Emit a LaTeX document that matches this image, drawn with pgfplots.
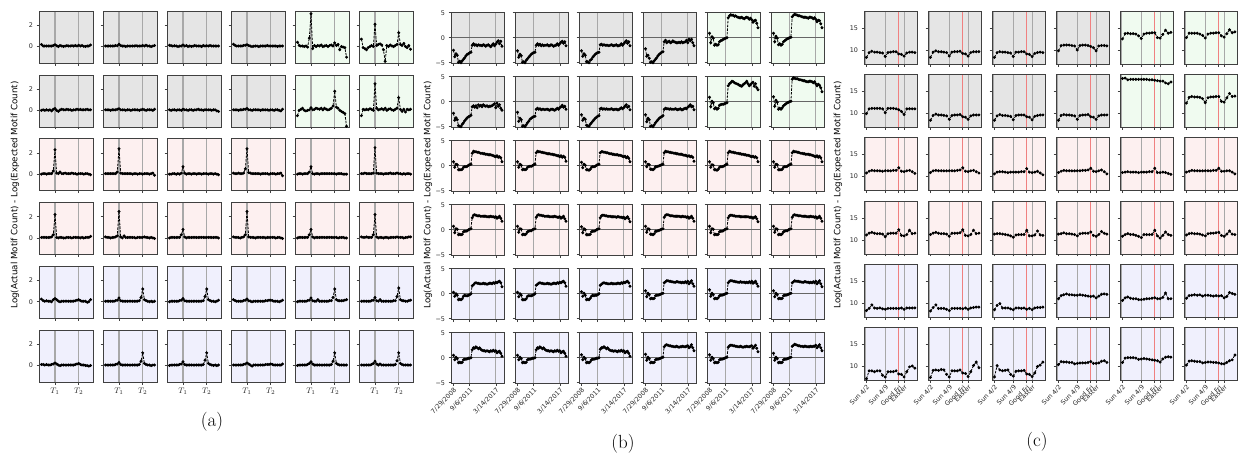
\documentclass[border=0pt]{standalone}
\usepackage{pgfplots}
\pgfplotsset{compat=1.18}
\usepackage{fontspec}
\newfontfamily\djv{DejaVu Sans}
\definecolor{cg}{HTML}{E5E5E5}
\definecolor{cgr}{HTML}{F0FBF0}
\definecolor{cp}{HTML}{FDF0F0}
\definecolor{cb}{HTML}{F0F0FD}
\definecolor{vlc}{HTML}{A8A8A8}
\definecolor{rlc}{HTML}{F08080}
\newcommand\mkc[1]{\gdef\crd{}\foreach \v [count=\i from 0] in {#1}{\xdef\crd{\crd(\i,\v)}}}
\pgfplotsset{
 sp/.style={scale only axis, anchor=north west,
   axis line style={draw=black!75, line width=0.55pt},
   tick align=outside, xtick pos=bottom, ytick pos=left,
   major tick length=2.5pt, every tick/.style={black!75, line width=0.55pt},
   tick label style={font=\djv\fontsize{6.4}{7.5}\selectfont, text=black!85},
   /pgf/number format/assume math mode=true,
   xticklabels={}, yticklabels={}, axis on top, clip=true},
 pa/.style={sp, width=54pt, height=52pt, xmin=-1.45, xmax=30.45, ymin=-1.55, ymax=3.35, xtick={8,22}, ytick={0,2}},
 pb/.style={sp, width=53.5pt, height=51.5pt, xmin=-2, xmax=41, ymin=-5.15, ymax=5.15, xtick={0,13,34}, ytick={-5,0,5}},
 pc/.style={sp, width=53.3pt, height=53pt, xmin=-0.9, xmax=18.9, ymin=6.8, ymax=18.85, xtick={0,7,12,14}, ytick={10,15}},
 ayl/.style={yticklabels={0,2}},
 axl/.style={xticklabels={$T_1$,$T_2$}, x tick label style={font=\fontsize{8}{9}\selectfont}},
 byl/.style={yticklabels={−5,0,5}},
 bxl/.style={xticklabels={7/29/2008,9/6/2011,3/14/2017}, x tick label style={rotate=45, anchor=north east, inner sep=1pt}},
 cyl/.style={yticklabels={10,15}},
 cxl/.style={xticklabels={Sun 4/2,Sun 4/9,Good Fri,Easter}, x tick label style={rotate=45, anchor=north east, inner sep=1pt}},
}
\tikzset{
 vl/.style={draw=vlc, line width=1.1pt},
 vlb/.style={draw=vlc, line width=1.7pt},
 rl/.style={draw=rlc, line width=1.2pt},
 hl/.style={draw=black!60, line width=0.6pt},
 ser/.style={black, line width=0.8pt, dash pattern=on 2.5pt off 1.2pt, mark=*, mark size=1.05pt, mark options={solid}},
}
\newcommand\PA[5]{\pgfmathsetmacro\px{39+64*(#1-1)}\pgfmathsetmacro\py{11+63.8*(#2-1)}\mkc{#5}%
\begin{axis}[pa,at={(\px pt,-\py pt)},axis background/.style={fill=#3},#4]
\draw[vl] (axis cs:8,-1.55) -- (axis cs:8,3.35);
\draw[vl] (axis cs:22,-1.55) -- (axis cs:22,3.35);
\edef\mytmp{\noexpand\addplot[ser] coordinates {\crd};}\mytmp
\end{axis}}
\newcommand\PB[5]{\pgfmathsetmacro\px{451+64*(#1-1)}\pgfmathsetmacro\py{12+64*(#2-1)}\mkc{#5}%
\begin{axis}[pb,at={(\px pt,-\py pt)},axis background/.style={fill=#3},#4]
\draw[vl] (axis cs:13,-5.15) -- (axis cs:13,5.15);
\draw[vl] (axis cs:34,-5.15) -- (axis cs:34,5.15);
\draw[hl] (axis cs:-2,0) -- (axis cs:41,0);
\edef\mytmp{\noexpand\addplot[ser] coordinates {\crd};}\mytmp
\end{axis}}
\newcommand\PC[5]{\pgfmathsetmacro\px{864+64*(#1-1)}\pgfmathsetmacro\py{11+63.3*(#2-1)}\mkc{#5}%
\begin{axis}[pc,at={(\px pt,-\py pt)},axis background/.style={fill=#3},#4]
\draw[vlb] (axis cs:-0.5,6.8) -- (axis cs:-0.5,18.85);
\draw[vl] (axis cs:7,6.8) -- (axis cs:7,18.85);
\draw[vl] (axis cs:14,6.8) -- (axis cs:14,18.85);
\draw[rl] (axis cs:12,6.8) -- (axis cs:12,18.85);
\edef\mytmp{\noexpand\addplot[ser] coordinates {\crd};}\mytmp
\end{axis}}
\begin{document}
\begin{tikzpicture}
\useasboundingbox (0,0) rectangle (1244pt,-469pt);
% ---------------- panel (a) ----------------
\PA{1}{1}{cg}{ayl}{0.2,0.05,0.05,0.05,0.05,0.05,0.05,0.1,0.18,0.08,0.0,0.1,0.05,0.0,0.05,0.08,0.05,0.05,0.08,0.05,0.1,0.05,0.12,0.05,0.1,0.02,0.0,0.05,0.05,0.15}
\PA{2}{1}{cg}{}{0.05,0.05,0.05,0.05,0.05,0.05,0.1,0.08,0.22,0.1,0.05,0.05,0.0,0.05,0.05,0.05,0.05,0.05,0.08,0.05,0.05,0.05,0.1,0.05,0.12,0.05,0.05,0.0,0.05,0.1}
\PA{3}{1}{cg}{}{0.12,0.08,0.05,0.08,0.05,0.0,0.05,0.05,0.15,0.05,0.1,0.0,0.05,0.0,0.05,0.1,0.05,0.05,0.05,0.0,0.1,0.05,0.08,0.05,0.1,0.05,0.05,0.05,0.05,0.05}
\PA{4}{1}{cg}{}{0.22,0.1,0.05,0.05,0.05,0.05,0.1,0.12,0.18,0.1,0.05,0.0,0.02,0.05,0.05,0.0,0.05,0.05,0.05,0.05,0.1,0.05,0.05,0.05,0.05,0.05,0.0,0.05,0.05,0.05}
\PA{5}{1}{cgr}{}{0.4,0.1,0.05,0.05,0.0,0.05,-0.05,0.8,3.1,-0.2,0.1,0.0,0.1,0.05,0.15,0.0,0.05,0.1,0.0,0.1,0.15,0.05,0.35,0.1,0.2,-0.3,0.0,-0.05,-0.1,-1.0}
\PA{6}{1}{cgr}{}{0.7,-0.1,-0.2,-0.3,-0.1,0.0,0.1,0.0,2.1,0.1,0.2,0.25,0.15,-0.3,-1.4,0.1,0.0,0.15,0.05,0.0,0.1,0.2,1.3,0.2,0.1,0.3,0.0,-0.1,0.1,-0.25}
\PA{1}{2}{cg}{ayl}{0.0,0.05,0.0,0.05,0.0,0.05,-0.05,0.1,0.18,0.0,-0.1,0.05,0.1,0.05,0.05,0.1,0.05,0.05,0.0,0.05,0.05,0.1,0.05,0.1,0.05,0.05,0.05,0.1,0.05,0.05}
\PA{2}{2}{cg}{}{0.05,0.05,0.05,0.0,0.05,0.05,0.05,0.1,0.15,0.05,0.05,0.05,0.0,0.05,0.05,0.0,0.05,0.05,0.05,0.05,0.0,0.05,0.1,0.05,0.0,0.05,0.05,0.05,0.0,0.1}
\PA{3}{2}{cg}{}{0.05,0.0,0.05,0.05,0.0,0.05,0.05,0.0,0.1,0.05,0.05,0.0,0.05,0.05,0.0,0.05,0.05,0.1,0.05,0.05,0.0,0.05,0.05,0.05,0.05,0.0,0.05,0.05,-0.05,-0.1}
\PA{4}{2}{cg}{}{0.05,0.05,0.05,0.0,0.05,0.05,0.1,0.1,0.18,0.05,0.05,0.0,0.05,0.05,0.05,0.05,0.0,0.05,0.05,0.05,0.05,0.0,0.05,0.05,0.0,0.05,0.05,0.0,-0.05,0.1}
\PA{5}{2}{cgr}{}{-0.5,0.0,0.1,0.2,0.0,-0.05,0.0,0.05,0.25,0.05,0.1,0.2,0.15,0.1,0.2,0.05,0.2,0.1,0.05,0.1,0.2,0.4,1.8,0.3,0.2,0.0,-0.1,-0.2,-0.3,-1.5}
\PA{6}{2}{cgr}{}{-0.5,0.1,0.05,0.1,0.05,0.15,0.1,0.0,2.5,0.2,0.05,0.1,0.15,0.05,0.2,0.0,0.1,0.15,0.05,0.0,0.1,0.2,1.2,0.1,-0.1,0.1,-0.15,0.1,0.05,0.1}
\PA{1}{3}{cp}{ayl}{0.0,0.05,0.05,0.0,0.05,0.05,0.05,0.3,2.3,0.1,0.05,0.2,0.05,0.05,0.1,0.05,0.05,0.05,0.1,0.05,0.05,0.0,0.05,0.05,0.05,0.0,0.05,0.05,0.0,-0.05}
\PA{2}{3}{cp}{}{0.05,0.05,0.05,0.05,0.05,0.05,0.05,0.2,2.4,0.1,0.05,0.05,0.05,0.05,0.05,0.05,0.0,0.05,0.05,0.0,0.05,0.05,0.0,0.05,0.05,0.05,0.0,0.05,0.1,-0.1}
\PA{3}{3}{cp}{}{0.0,0.0,0.05,0.05,0.0,0.05,0.0,0.1,0.7,0.1,0.0,0.05,0.05,0.0,0.05,0.05,0.0,0.05,0.05,0.0,0.05,0.05,0.05,0.0,0.05,0.05,0.0,0.05,0.0,-0.05}
\PA{4}{3}{cp}{}{0.1,0.05,0.05,0.1,0.05,0.05,0.1,0.5,2.4,0.15,0.1,0.05,0.05,0.05,0.05,0.05,0.0,0.05,0.05,0.05,0.05,0.0,0.05,0.05,0.05,0.0,0.05,0.05,0.1,-0.15}
\PA{5}{3}{cp}{}{0.0,0.05,0.05,0.0,0.05,0.05,0.05,0.2,0.7,0.05,0.0,0.05,0.05,0.0,0.05,0.05,0.05,0.05,0.05,0.05,0.05,0.05,0.05,0.0,0.05,0.05,0.05,0.0,0.0,0.0}
\PA{6}{3}{cp}{}{0.05,0.05,0.1,0.05,0.05,0.05,0.05,0.1,2.5,0.1,0.05,0.05,0.05,0.0,0.05,0.05,0.05,0.1,0.05,0.05,0.05,0.1,0.05,0.05,0.0,0.05,0.0,0.05,0.05,0.0}
\PA{1}{4}{cp}{ayl}{0.05,0.05,0.05,0.05,0.05,0.05,0.1,0.3,2.2,0.05,0.0,0.05,0.05,0.0,0.0,0.05,0.05,0.05,0.0,0.05,0.05,0.05,0.05,0.0,0.05,0.0,0.05,0.05,0.05,0.15}
\PA{2}{4}{cp}{}{0.1,0.05,0.05,0.0,0.05,0.05,0.1,0.2,2.5,0.1,0.0,0.2,0.05,0.05,0.05,0.05,0.05,0.05,0.0,0.05,0.05,0.05,0.05,0.1,0.05,0.05,0.0,0.05,0.0,-0.05}
\PA{3}{4}{cp}{}{0.0,0.05,0.05,0.05,0.05,0.05,0.05,0.3,0.8,0.1,0.0,0.05,0.05,0.05,0.05,0.05,0.05,0.05,0.05,0.05,0.05,0.05,0.05,0.05,0.05,0.05,0.05,0.05,0.05,0.0}
\PA{4}{4}{cp}{}{0.1,0.05,0.05,0.05,0.0,0.05,0.1,0.3,2.5,0.1,0.05,0.05,0.05,0.0,0.05,0.05,0.05,0.05,0.05,0.0,0.05,0.05,0.05,0.05,0.05,0.0,0.05,0.05,0.0,-0.05}
\PA{5}{4}{cp}{}{0.0,0.05,0.05,0.05,0.05,0.05,0.05,0.3,0.8,0.1,0.0,0.05,0.05,0.05,0.05,0.05,0.05,0.05,0.05,0.05,0.05,0.05,0.05,0.05,0.0,0.05,0.05,0.05,0.0,0.0}
\PA{6}{4}{cp}{}{0.1,0.05,0.05,0.1,0.05,0.05,0.05,0.3,2.2,0.1,0.0,0.05,0.05,0.0,0.05,0.05,0.0,0.05,0.05,0.05,0.05,0.1,0.05,0.05,0.05,0.0,0.05,0.05,0.1,0.1}
\PA{1}{5}{cb}{ayl}{0.25,0.1,0.05,0.1,0.05,0.05,0.0,0.2,0.3,0.2,0.05,0.0,0.05,0.05,0.05,0.05,0.05,0.05,0.05,0.05,0.1,0.15,0.2,0.1,0.05,0.05,0.05,-0.05,0.0,0.2}
\PA{2}{5}{cb}{}{0.05,0.05,0.05,0.05,0.05,0.05,0.1,0.15,0.35,0.1,0.05,0.05,0.05,0.05,0.05,0.05,0.05,0.05,0.05,0.05,0.1,0.4,1.2,0.2,0.1,0.05,0.0,0.05,0.0,0.05}
\PA{3}{5}{cb}{}{0.0,0.05,0.05,0.05,0.05,0.05,0.1,0.15,0.3,0.1,0.05,0.05,0.05,0.05,0.05,0.05,0.05,0.05,0.05,0.05,0.1,0.5,1.2,0.2,0.1,0.05,0.05,0.0,0.05,0.15}
\PA{4}{5}{cb}{}{0.2,0.1,0.05,0.05,0.05,0.05,0.1,0.15,0.25,0.1,0.05,0.0,0.05,0.05,0.05,0.05,0.05,0.05,0.05,0.1,0.1,0.15,0.15,0.1,0.05,0.05,0.05,0.0,0.05,0.15}
\PA{5}{5}{cb}{}{0.0,0.05,0.05,0.05,0.05,0.05,0.1,0.15,0.35,0.1,0.05,0.05,0.2,0.05,0.05,0.05,0.05,0.05,0.05,0.1,0.1,0.4,1.2,0.2,0.1,0.1,0.1,0.1,0.15,0.2}
\PA{6}{5}{cb}{}{0.05,0.05,0.05,0.05,0.05,0.05,0.1,0.15,0.4,0.1,0.05,0.2,0.05,0.05,0.05,0.05,0.05,0.05,0.05,0.1,0.1,0.5,1.3,0.2,0.1,0.1,0.05,0.05,0.1,0.15}
\PA{1}{6}{cb}{ayl,axl}{0.1,0.1,0.05,0.1,0.05,0.05,0.1,0.15,0.25,0.15,0.05,0.0,0.05,0.05,0.05,0.05,0.05,0.05,0.05,0.05,0.1,0.15,0.2,0.1,0.05,0.05,0.0,0.0,-0.05,0.0}
\PA{2}{6}{cb}{axl}{0.05,0.05,0.05,0.05,0.05,0.05,0.1,0.15,0.3,0.1,0.05,0.05,0.05,0.05,0.05,0.05,0.05,0.05,0.05,0.05,0.1,0.4,1.2,0.2,0.1,0.05,0.05,0.0,0.05,0.05}
\PA{3}{6}{cb}{axl}{0.0,0.05,0.05,0.05,0.05,0.05,0.1,0.15,0.35,0.1,0.05,0.05,0.05,0.05,0.05,0.05,0.05,0.05,0.05,0.05,0.1,0.5,1.2,0.2,0.1,0.05,0.0,0.05,0.0,0.05}
\PA{4}{6}{cb}{axl}{0.05,0.05,0.05,0.05,0.05,0.05,0.1,0.15,0.25,0.15,0.05,-0.05,0.05,0.05,0.05,0.05,0.05,0.05,0.05,0.1,0.1,0.1,0.15,0.1,0.05,0.05,0.05,0.05,0.05,0.15}
\PA{5}{6}{cb}{axl}{0.0,0.05,0.05,0.05,0.05,0.05,0.1,0.2,0.35,0.15,0.05,0.05,0.05,0.05,0.05,0.05,0.05,0.05,0.05,0.05,0.1,0.4,1.2,0.2,0.1,0.05,0.05,0.05,0.05,0.05}
\PA{6}{6}{cb}{axl}{0.05,0.05,0.05,0.05,0.05,0.05,0.1,0.2,0.4,0.15,0.05,0.15,0.05,0.05,0.05,0.05,0.05,0.05,0.05,0.05,0.1,0.45,1.2,0.2,0.1,0.05,0.05,0.05,0.05,0.05}
% ---------------- panel (b) ----------------
\PB{1}{1}{cg}{byl}{-2.5,-3.8,-3.2,-3.5,-4.9,-4.7,-5.0,-4.6,-4.3,-4.0,-3.6,-3.3,-3.2,-3.0,-2.9,-1.5,-1.2,-1.5,-1.4,-1.6,-1.4,-1.5,-1.5,-1.6,-1.4,-1.5,-1.7,-1.5,-1.4,-1.6,-1.8,-1.5,-1.2,-1.6,-1.3,-0.9,-0.6,-1.2,-0.7,-1.7}
\PB{2}{1}{cg}{}{-2.6,-3.9,-3.3,-3.6,-4.9,-4.8,-5.0,-4.5,-4.2,-3.9,-3.6,-3.3,-3.1,-3.0,-2.9,-1.5,-1.2,-1.5,-1.3,-1.6,-1.4,-1.6,-1.5,-1.5,-1.4,-1.6,-1.6,-1.4,-1.5,-1.7,-1.6,-1.5,-1.2,-1.5,-1.2,-0.9,-0.7,-1.1,-0.8,-1.6}
\PB{3}{1}{cg}{}{-2.6,-3.7,-3.2,-3.5,-4.8,-4.8,-5.0,-4.5,-4.3,-3.9,-3.6,-3.3,-3.1,-3.0,-2.9,-1.4,-1.3,-1.5,-1.4,-1.5,-1.5,-1.5,-1.6,-1.5,-1.4,-1.5,-1.6,-1.5,-1.4,-1.6,-1.6,-1.5,-1.2,-1.5,-1.2,-0.9,-0.6,-1.1,-0.8,-1.6}
\PB{4}{1}{cg}{}{-2.2,-3.7,-3.5,-4.1,-4.9,-4.8,-5.0,-4.6,-4.3,-4.0,-3.6,-3.3,-3.1,-2.9,-2.8,-0.8,-0.5,-1.0,-0.8,-0.7,-1.0,-0.9,-0.6,-0.8,-0.9,-1.0,-1.0,-0.9,-1.0,-0.8,-1.0,-0.9,-0.8,-0.5,-1.0,-0.3,-0.6,-0.3,-1.0,-1.6}
\PB{5}{1}{cgr}{}{0.9,-1.0,0.2,-0.1,-1.5,-1.3,-1.5,-1.4,-0.8,-0.6,-0.5,-0.3,-0.2,-0.1,0.0,4.0,4.4,4.6,4.5,4.5,4.3,4.4,4.2,4.1,4.0,4.0,4.1,3.9,3.8,4.0,4.1,4.0,3.7,3.9,3.6,3.1,3.4,3.5,2.9,2.0}
\PB{6}{1}{cgr}{}{0.9,-0.8,0.3,-0.1,-1.4,-1.2,-1.5,-1.3,-0.8,-0.6,-0.4,-0.2,-0.1,0.0,0.1,4.2,4.5,4.7,4.6,4.5,4.4,4.4,4.3,4.2,4.1,4.1,4.1,4.0,3.9,4.1,4.1,4.0,3.8,4.0,3.7,3.2,3.5,3.4,2.8,2.0}
\PB{1}{2}{cg}{byl}{-2.3,-3.7,-3.2,-3.6,-4.8,-4.9,-5.0,-4.5,-4.2,-3.8,-3.5,-3.2,-3.0,-2.9,-2.7,-1.0,-0.8,-1.1,-0.8,-1.2,-0.6,-0.9,-0.7,-1.0,-0.6,-0.8,-0.9,-0.8,-1.0,-0.9,-0.9,-0.8,-0.6,-0.4,-1.2,-0.3,-0.9,-0.6,-1.3,-1.7}
\PB{2}{2}{cg}{}{-2.1,-3.9,-3.3,-3.6,-4.9,-4.8,-5.0,-4.6,-4.2,-3.9,-3.5,-3.3,-3.1,-3.0,-2.9,-1.5,-1.3,-1.5,-1.4,-1.6,-1.5,-1.5,-1.6,-1.5,-1.5,-1.6,-1.7,-1.5,-1.5,-1.6,-1.7,-1.5,-1.3,-1.5,-1.2,-1.0,-0.7,-1.1,-0.9,-1.5}
\PB{3}{2}{cg}{}{-2.6,-3.7,-3.3,-3.5,-4.7,-4.8,-4.9,-4.5,-4.2,-3.9,-3.6,-3.3,-3.1,-2.9,-2.8,-1.4,-1.3,-1.5,-1.4,-1.5,-1.4,-1.5,-1.5,-1.5,-1.4,-1.5,-1.6,-1.5,-1.5,-1.6,-1.6,-1.4,-1.2,-1.4,-1.2,-0.9,-0.6,-1.1,-0.9,-1.6}
\PB{4}{2}{cg}{}{-2.6,-4.0,-3.3,-3.6,-4.9,-4.8,-5.0,-4.6,-4.2,-3.9,-3.6,-3.3,-3.1,-3.0,-2.8,-1.5,-1.3,-1.4,-1.4,-1.5,-1.4,-1.5,-1.5,-1.5,-1.4,-1.5,-1.6,-1.5,-1.4,-1.6,-1.6,-1.4,-1.3,-1.4,-1.1,-0.9,-0.6,-1.0,-0.9,-1.6}
\PB{5}{2}{cgr}{}{0.9,-1.0,0.1,-0.2,-1.4,-1.2,-1.5,-1.3,-0.7,-0.6,-0.5,-0.5,-0.4,-0.3,-0.2,3.2,3.6,3.8,4.1,4.0,3.8,3.7,3.6,3.5,3.3,3.2,3.1,3.4,3.6,3.8,4.1,3.6,3.2,3.4,3.7,3.9,3.1,3.6,2.8,2.4}
\PB{6}{2}{cgr}{}{1.0,-0.9,0.3,-0.1,-1.5,-1.3,-1.5,-1.2,-0.8,-0.6,-0.4,-0.2,-0.1,0.0,0.1,4.5,4.8,4.7,4.6,4.6,4.5,4.4,4.4,4.3,4.2,4.2,4.1,4.0,4.0,4.1,4.1,4.0,3.8,4.0,3.6,3.2,3.5,3.3,2.8,2.0}
\PB{1}{3}{cp}{byl}{0.8,-0.3,0.3,0.2,-0.8,-0.8,-0.8,-0.7,-0.3,-0.2,-0.2,-0.1,0.1,0.2,0.3,2.5,2.9,2.8,2.8,2.7,2.7,2.6,2.5,2.5,2.4,2.4,2.3,2.3,2.2,2.2,2.2,2.1,2.0,1.9,1.8,2.0,1.7,1.8,1.6,0.8}
\PB{2}{3}{cp}{}{0.8,-0.3,0.3,0.1,-0.8,-0.7,-0.8,-0.7,-0.3,-0.2,-0.1,-0.1,0.0,0.2,0.3,2.6,2.9,2.8,2.8,2.7,2.7,2.6,2.6,2.5,2.4,2.4,2.4,2.3,2.3,2.2,2.2,2.1,2.0,2.0,1.8,2.0,1.7,1.9,1.7,0.9}
\PB{3}{3}{cp}{}{0.7,-0.4,0.3,0.1,-0.8,-0.8,-0.9,-0.7,-0.3,-0.2,-0.2,-0.1,0.1,0.2,0.3,2.6,2.8,2.8,2.7,2.7,2.6,2.6,2.5,2.4,2.4,2.3,2.3,2.2,2.2,2.2,2.1,2.1,2.0,1.9,1.8,1.9,1.6,1.8,1.5,0.8}
\PB{4}{3}{cp}{}{0.8,-0.2,0.3,0.2,-0.7,-0.7,-0.8,-0.6,-0.2,-0.2,-0.1,0.0,0.1,0.2,0.3,2.6,2.9,2.8,2.8,2.7,2.7,2.6,2.6,2.5,2.5,2.4,2.4,2.3,2.3,2.3,2.2,2.1,2.1,2.0,1.9,2.0,1.8,1.9,1.7,0.9}
\PB{5}{3}{cp}{}{0.8,-0.3,0.2,0.1,-0.8,-0.8,-0.9,-0.7,-0.3,-0.2,-0.2,-0.1,0.0,0.2,0.3,2.6,2.9,2.8,2.7,2.7,2.6,2.6,2.5,2.5,2.4,2.4,2.3,2.3,2.2,2.2,2.1,2.1,2.0,1.9,1.8,1.9,1.7,1.8,1.6,0.8}
\PB{6}{3}{cp}{}{0.8,-0.3,0.3,0.2,-0.8,-0.8,-0.8,-0.7,-0.3,-0.2,-0.2,-0.1,0.1,0.2,0.3,2.6,2.9,2.8,2.8,2.7,2.7,2.6,2.5,2.5,2.4,2.4,2.3,2.3,2.3,2.2,2.2,2.1,2.0,1.9,1.8,2.0,1.7,1.9,1.6,0.8}
\PB{1}{4}{cp}{byl}{0.7,-0.6,0.2,0.1,-1.0,-0.9,-1.0,-0.9,-0.4,-0.3,-0.3,-0.2,0.0,0.1,0.2,2.4,2.9,3.0,2.9,2.8,2.8,2.8,2.7,2.7,2.7,2.7,2.7,2.6,2.6,2.6,2.7,2.6,2.6,2.5,2.6,2.3,2.5,2.7,2.3,1.7}
\PB{2}{4}{cp}{}{0.7,-0.5,0.2,0.1,-1.0,-0.9,-1.0,-0.8,-0.4,-0.3,-0.2,-0.2,0.0,0.1,0.2,2.5,2.9,3.0,2.9,2.9,2.8,2.8,2.7,2.7,2.7,2.7,2.6,2.6,2.6,2.6,2.7,2.6,2.5,2.5,2.6,2.3,2.5,2.7,2.2,1.7}
\PB{3}{4}{cp}{}{0.6,-0.6,0.2,0.0,-1.0,-1.0,-1.0,-0.9,-0.4,-0.3,-0.3,-0.2,0.0,0.1,0.2,2.4,2.8,2.9,2.9,2.8,2.8,2.7,2.7,2.7,2.6,2.6,2.6,2.6,2.5,2.6,2.6,2.5,2.5,2.4,2.5,2.2,2.4,2.6,2.2,1.6}
\PB{4}{4}{cp}{}{0.7,-0.5,0.2,0.1,-0.9,-0.9,-1.0,-0.8,-0.3,-0.3,-0.2,-0.1,0.0,0.1,0.2,2.5,2.9,3.0,3.0,2.9,2.8,2.8,2.8,2.7,2.7,2.7,2.7,2.7,2.6,2.6,2.7,2.6,2.6,2.5,2.6,2.3,2.5,2.7,2.3,1.7}
\PB{5}{4}{cp}{}{0.7,-0.6,0.2,0.1,-1.0,-0.9,-1.0,-0.9,-0.4,-0.3,-0.3,-0.2,0.0,0.1,0.2,2.4,2.8,2.9,2.9,2.8,2.8,2.7,2.7,2.7,2.7,2.6,2.6,2.6,2.6,2.6,2.6,2.6,2.5,2.5,2.5,2.3,2.5,2.6,2.2,1.6}
\PB{6}{4}{cp}{}{0.7,-0.5,0.2,0.1,-1.0,-0.9,-1.0,-0.8,-0.4,-0.3,-0.2,-0.2,0.0,0.1,0.2,2.5,2.9,3.0,2.9,2.9,2.8,2.8,2.8,2.7,2.7,2.7,2.7,2.6,2.6,2.6,2.7,2.6,2.6,2.5,2.6,2.3,2.5,2.7,2.3,1.7}
\PB{1}{5}{cb}{byl}{0.3,-0.5,0.0,-0.3,-1.2,-1.1,-1.2,-1.0,-0.5,-0.3,-0.4,-0.4,-0.3,-0.2,0.0,1.6,1.8,2.1,2.2,2.1,2.1,2.0,2.0,2.0,2.1,2.0,2.0,1.9,2.0,2.1,2.1,2.0,2.2,2.1,2.3,2.2,2.4,2.5,2.2,1.4}
\PB{2}{5}{cb}{}{0.3,-0.6,0.0,-0.3,-1.2,-1.2,-1.2,-1.0,-0.5,-0.4,-0.4,-0.4,-0.3,-0.2,0.0,1.7,1.9,2.1,2.2,2.1,2.1,2.0,2.0,2.0,2.1,2.0,2.0,1.9,2.0,2.1,2.1,2.0,2.2,2.1,2.3,2.2,2.4,2.5,2.2,1.5}
\PB{3}{5}{cb}{}{0.4,-0.5,0.1,-0.3,-1.2,-1.1,-1.2,-0.9,-0.5,-0.3,-0.4,-0.3,-0.3,-0.2,0.0,1.7,1.9,2.1,2.2,2.1,2.1,2.0,2.0,2.0,2.1,2.0,2.0,2.0,2.0,2.1,2.1,2.0,2.2,2.1,2.3,2.2,2.4,2.5,2.2,1.5}
\PB{4}{5}{cb}{}{0.6,-0.6,0.1,-0.2,-1.0,-0.9,-1.0,-0.9,-0.4,-0.3,-0.3,-0.2,-0.1,0.0,0.1,2.2,2.4,2.6,2.6,2.5,2.5,2.4,2.4,2.3,2.3,2.4,2.4,2.3,2.3,2.2,2.3,2.2,2.4,2.2,2.5,2.0,2.3,2.6,2.0,1.5}
\PB{5}{5}{cb}{}{0.8,-0.5,0.1,-0.2,-1.0,-0.9,-1.0,-0.8,-0.4,-0.3,-0.3,-0.2,-0.1,0.0,0.1,2.2,2.5,2.6,2.6,2.5,2.5,2.4,2.4,2.3,2.3,2.4,2.3,2.3,2.3,2.2,2.3,2.2,2.4,2.2,2.5,2.1,2.3,2.5,2.0,1.5}
\PB{6}{5}{cb}{}{0.6,-0.6,0.1,-0.2,-1.0,-0.9,-1.0,-0.9,-0.4,-0.3,-0.3,-0.2,-0.1,0.0,0.1,2.2,2.4,2.6,2.5,2.5,2.5,2.4,2.4,2.3,2.3,2.4,2.4,2.3,2.3,2.2,2.3,2.2,2.4,2.2,2.5,2.0,2.3,2.6,2.0,1.4}
\PB{1}{6}{cb}{byl,bxl}{0.5,-0.4,0.1,-0.2,-1.0,-0.9,-1.0,-0.9,-0.4,-0.3,-0.3,-0.2,-0.1,-0.1,0.0,1.6,2.0,1.9,2.2,2.0,1.8,2.0,1.7,1.5,1.4,1.4,1.3,1.4,1.3,1.2,1.4,1.3,1.5,1.3,1.4,1.0,1.2,1.3,0.9,0.3}
\PB{2}{6}{cb}{bxl}{0.5,-0.4,0.1,-0.2,-1.0,-0.9,-1.0,-0.9,-0.4,-0.3,-0.3,-0.2,-0.1,-0.1,0.0,1.6,2.0,1.9,2.2,2.0,1.8,2.0,1.7,1.5,1.4,1.4,1.3,1.4,1.3,1.2,1.4,1.3,1.5,1.3,1.4,1.0,1.2,1.3,0.9,0.3}
\PB{3}{6}{cb}{bxl}{0.6,-0.4,0.1,-0.2,-1.0,-0.9,-1.0,-0.8,-0.4,-0.3,-0.3,-0.2,-0.1,-0.1,0.0,1.7,2.0,2.0,2.2,2.0,1.8,2.0,1.7,1.5,1.4,1.4,1.3,1.4,1.3,1.2,1.4,1.3,1.5,1.3,1.4,1.0,1.2,1.3,0.9,0.3}
\PB{4}{6}{cb}{bxl}{0.7,-0.5,0.1,-0.2,-1.0,-0.9,-1.0,-0.9,-0.4,-0.3,-0.3,-0.2,-0.1,0.0,0.1,2.2,2.5,2.6,2.5,2.4,2.4,2.3,2.3,2.2,2.2,2.3,2.2,2.1,2.2,2.2,2.3,2.2,2.2,2.3,2.4,2.0,2.2,2.6,2.0,1.4}
\PB{5}{6}{cb}{bxl}{0.6,-0.5,0.1,-0.2,-1.0,-0.9,-1.0,-0.9,-0.4,-0.3,-0.3,-0.2,-0.1,0.0,0.1,2.1,2.4,2.5,2.5,2.4,2.4,2.3,2.3,2.2,2.2,2.3,2.2,2.1,2.2,2.2,2.3,2.2,2.2,2.3,2.4,1.9,2.2,2.5,1.9,1.2}
\PB{6}{6}{cb}{bxl}{0.9,-0.5,0.1,-0.2,-1.0,-0.9,-1.0,-0.9,-0.4,-0.3,-0.3,-0.2,-0.1,0.0,0.1,2.3,2.5,2.7,2.6,2.5,2.4,2.4,2.3,2.3,2.2,2.3,2.3,2.2,2.2,2.2,2.3,2.2,2.3,2.3,2.5,2.0,2.3,2.6,2.0,1.4}
% ---------------- panel (c) ----------------
\PC{1}{1}{cg}{cyl}{8.3,9.4,9.7,9.5,9.5,9.4,9.3,8.5,9.4,9.5,9.6,9.6,9.1,9.0,8.6,9.3,9.5,9.5,9.4}
\PC{2}{1}{cg}{}{8.3,9.5,9.8,9.6,9.6,9.5,9.4,8.6,9.5,9.6,9.6,9.7,9.2,9.1,8.6,9.4,9.6,9.6,9.6}
\PC{3}{1}{cg}{}{8.3,9.4,9.6,9.5,9.5,9.4,9.3,8.5,9.5,9.5,9.6,9.6,9.1,9.0,8.5,9.2,9.4,9.5,9.4}
\PC{4}{1}{cg}{}{9.8,11.0,11.1,11.1,11.1,11.0,10.9,10.0,11.0,11.1,11.1,11.0,10.8,10.5,9.8,10.9,11.0,11.0,10.9}
\PC{5}{1}{cgr}{}{12.5,13.7,13.8,13.7,13.7,13.6,13.2,12.6,13.6,13.8,13.8,13.9,13.9,12.8,12.7,13.5,14.5,13.8,14.0}
\PC{6}{1}{cgr}{}{12.8,13.8,13.8,13.8,13.8,13.6,13.3,12.7,13.6,13.8,13.8,13.9,13.9,13.2,12.9,13.7,14.6,13.9,14.1}
\PC{1}{2}{cg}{cyl}{9.9,11.0,11.1,11.1,11.1,11.1,11.0,10.1,11.1,11.1,11.1,11.0,10.8,10.4,9.7,11.0,11.0,11.0,11.0}
\PC{2}{2}{cg}{}{8.4,9.5,9.8,9.6,9.6,9.5,9.4,8.6,9.5,9.6,9.6,9.7,9.2,9.1,8.6,9.4,9.6,9.6,9.6}
\PC{3}{2}{cg}{}{8.4,9.4,9.7,9.5,9.5,9.4,9.3,8.5,9.5,9.6,9.6,9.6,9.2,9.1,8.5,9.3,9.5,9.6,9.6}
\PC{4}{2}{cg}{}{8.4,9.5,9.7,9.6,9.6,9.5,9.4,8.6,9.5,9.6,9.6,9.7,9.2,9.1,8.6,9.4,9.6,9.6,9.6}
\PC{5}{2}{cgr}{}{17.9,18.0,17.6,17.7,17.7,17.7,17.7,17.7,17.7,17.7,17.6,17.6,17.5,17.4,17.3,17.3,16.9,16.7,17.1}
\PC{6}{2}{cgr}{}{12.3,13.6,13.8,13.7,13.7,13.6,13.3,12.4,13.5,13.7,13.7,13.8,13.8,12.7,12.5,13.5,14.5,13.8,13.9}
\PC{1}{3}{cp}{cyl}{10.8,11.2,11.4,11.3,11.3,11.3,11.2,11.3,11.3,11.3,11.4,11.4,12.0,11.2,11.1,11.3,11.4,11.1,10.7}
\PC{2}{3}{cp}{}{10.9,11.3,11.4,11.3,11.3,11.3,11.3,11.3,11.3,11.3,11.4,11.5,12.0,11.2,11.1,11.3,11.4,11.1,10.8}
\PC{3}{3}{cp}{}{10.6,11.0,11.1,11.1,11.0,10.9,11.0,11.0,11.0,11.0,11.1,11.1,11.8,11.0,10.9,11.0,11.2,10.8,10.4}
\PC{4}{3}{cp}{}{10.9,11.2,11.4,11.3,11.3,11.3,11.3,11.3,11.3,11.4,11.4,11.5,11.9,11.2,11.1,11.3,11.5,11.1,10.6}
\PC{5}{3}{cp}{}{10.9,11.0,11.1,11.0,11.0,11.0,10.9,11.0,11.0,11.0,11.1,11.1,11.9,10.9,10.9,11.0,10.9,10.7,10.5}
\PC{6}{3}{cp}{}{11.0,11.2,11.4,11.3,11.3,11.3,11.3,11.3,11.3,11.3,11.4,11.4,11.9,11.2,11.2,11.3,11.3,11.0,10.6}
\PC{1}{4}{cp}{cyl}{11.1,11.5,11.7,11.5,11.4,11.4,11.3,10.7,11.4,11.5,11.5,11.5,12.3,11.0,10.9,11.2,12.2,11.4,11.5}
\PC{2}{4}{cp}{}{11.2,11.5,11.7,11.5,11.4,11.4,11.3,10.8,11.5,11.5,11.5,11.6,12.3,11.0,10.9,11.2,12.2,11.4,11.5}
\PC{3}{4}{cp}{}{11.3,11.4,11.4,11.3,11.2,11.1,10.9,10.6,11.1,11.2,11.2,11.2,12.2,10.9,10.9,11.1,12.0,11.1,11.0}
\PC{4}{4}{cp}{}{11.3,11.4,11.6,11.4,11.4,11.3,11.2,10.9,11.4,11.5,11.5,11.5,11.8,11.0,10.8,11.2,11.9,11.5,11.3}
\PC{5}{4}{cp}{}{10.8,11.2,11.4,11.2,11.2,11.0,10.8,10.5,11.2,11.2,11.2,11.2,12.2,10.9,10.4,11.0,11.8,11.2,11.0}
\PC{6}{4}{cp}{}{11.1,11.4,11.5,11.4,11.4,11.3,11.1,10.9,11.4,11.5,11.5,11.6,11.7,11.0,10.8,11.3,12.0,11.3,11.2}
\PC{1}{5}{cb}{cyl}{8.3,8.8,9.6,8.9,8.8,8.9,8.7,8.6,8.8,8.8,8.8,8.8,8.8,8.9,8.6,8.9,8.9,8.9,8.9}
\PC{2}{5}{cb}{}{8.2,9.0,9.6,8.8,8.8,8.8,8.6,8.3,8.8,8.8,8.8,8.8,8.7,8.9,8.6,8.9,9.0,9.1,9.1}
\PC{3}{5}{cb}{}{8.5,9.5,9.9,8.9,8.9,8.9,8.7,8.5,8.9,8.9,8.8,8.9,8.6,8.8,8.5,8.9,9.0,9.0,9.1}
\PC{4}{5}{cb}{}{11.0,11.7,11.9,12.1,11.9,11.9,11.8,11.8,11.9,11.8,11.7,11.6,11.5,11.6,11.2,11.6,12.0,12.1,12.0}
\PC{5}{5}{cb}{}{10.6,11.2,11.4,11.1,11.0,11.0,10.8,10.8,10.9,11.0,11.0,11.1,11.2,11.0,11.0,11.3,12.3,11.0,11.0}
\PC{6}{5}{cb}{}{11.1,11.7,11.8,11.9,11.8,11.9,11.6,11.8,11.8,11.7,11.6,11.7,11.6,11.7,11.2,11.5,12.4,12.2,12.0}
\PC{1}{6}{cb}{cyl,cxl}{7.2,9.0,9.0,8.8,9.0,9.0,8.0,7.6,8.8,8.8,8.8,9.0,8.3,8.2,7.6,8.8,9.9,10.1,9.6}
\PC{2}{6}{cb}{cxl}{7.5,9.1,9.2,9.1,9.3,9.2,8.2,7.6,9.0,9.0,9.0,9.2,8.5,8.4,7.7,8.8,10.2,11.0,9.7}
\PC{3}{6}{cb}{cxl}{7.6,10.2,9.2,9.0,9.1,9.2,8.2,7.8,8.9,9.0,9.0,9.1,8.3,8.2,7.7,8.5,10.0,10.3,11.0}
\PC{4}{6}{cb}{cxl}{10.4,11.1,11.0,11.0,10.9,10.9,10.6,10.7,10.8,10.8,10.8,10.9,11.1,10.7,10.7,10.8,11.2,11.3,10.9}
\PC{5}{6}{cb}{cxl}{10.9,11.9,12.0,12.0,12.0,11.9,11.6,11.7,11.8,11.7,11.6,11.5,11.4,11.3,11.0,11.7,12.1,12.2,12.1}
\PC{6}{6}{cb}{cxl}{10.3,11.2,11.3,11.2,11.1,11.1,10.8,10.9,11.0,11.0,10.9,10.9,10.8,10.6,10.6,10.9,11.3,11.5,12.6}
% ---------------- labels ----------------
\node[rotate=90, font=\djv\fontsize{8.7}{10}\selectfont] at (15pt,-195pt) {Log(Actual Motif Count) - Log(Expected Motif Count)};
\node[rotate=90, font=\djv\fontsize{8.7}{10}\selectfont] at (428pt,-195pt) {Log(Actual Motif Count) - Log(Expected Motif Count)};
\node[rotate=90, font=\djv\fontsize{8.7}{10}\selectfont] at (838pt,-195pt) {Log(Actual Motif Count) - Log(Expected Motif Count)};
\node[font=\fontsize{19}{22}\selectfont] at (212pt,-422pt) {(a)};
\node[font=\fontsize{19}{22}\selectfont] at (623pt,-444pt) {(b)};
\node[font=\fontsize{19}{22}\selectfont] at (1037pt,-442pt) {(c)};
\end{tikzpicture}
\end{document}
